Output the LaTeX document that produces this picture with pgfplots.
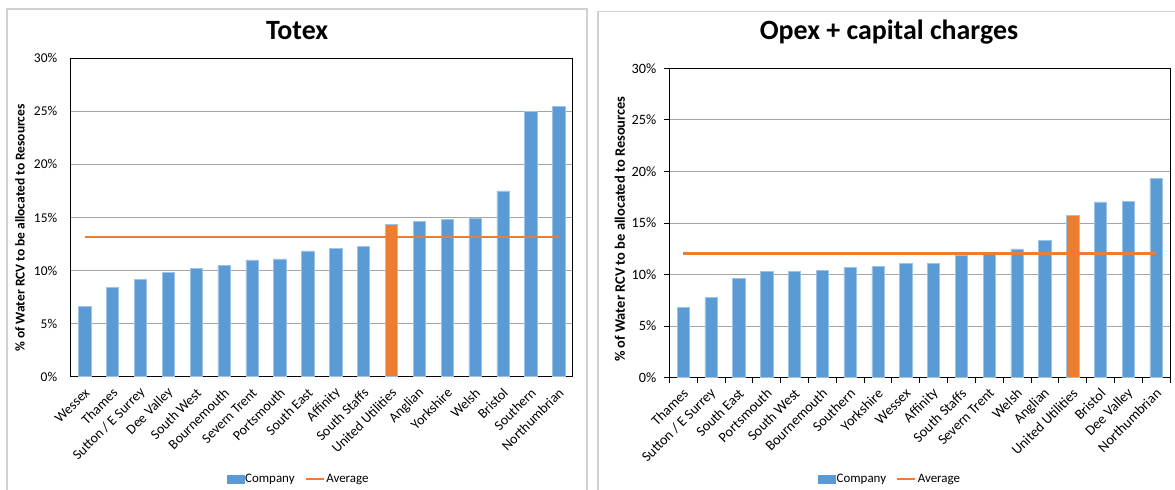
\documentclass[border=0pt]{standalone}
\usepackage{pgfplots}
\pgfplotsset{compat=1.18}
\usepackage{fontspec}
\setmainfont{Carlito}
\definecolor{xlblue}{HTML}{5B9BD5}
\definecolor{xledge}{HTML}{9DC3E6}
\definecolor{xlorange}{HTML}{ED7D31}
\definecolor{gridgray}{HTML}{A6A6A6}
\definecolor{panelgray}{HTML}{D0D0D0}

\pgfplotsset{
 xlstyle/.style={
  scale only axis,
  xmin=-0.5, xmax=17.5, ymin=0, ymax=30,
  ytick={0,5,...,30},
  yticklabel={\pgfmathprintnumber{\tick}\%},
  /pgf/number format/assume math mode=true,
  xtick={0,...,17},
  xtick pos=bottom, ytick pos=left,
  ymajorgrids,
  grid style={gridgray, line width=0.8bp},
  axis line style={black, line width=0.8bp},
  title style={font=\bfseries\fontsize{28}{32}\selectfont, anchor=base},
  ylabel={\% of Water RCV to be allocated to Resources},
  legend style={draw=none, fill=none, font=\fontsize{13}{15}\selectfont,
    legend columns=2, anchor=center, nodes={inner xsep=1bp},
    /tikz/every even column/.append style={column sep=9bp}},
 },
 barsty/.style={ybar, bar width=12.3bp, bar shift=0pt, fill=#1, draw=xledge, line width=0.5bp},
 avgsty/.style={xlorange, line width=2.6bp, mark=none},
}

\pgfplotstableread{
x y
0 6.6
1 8.4
2 9.2
3 9.8
4 10.2
5 10.5
6 11.0
7 11.1
8 11.85
9 12.1
10 12.3
12 14.6
13 14.8
14 14.9
15 17.5
16 25.0
17 25.5
}\totexblue

\pgfplotstableread{
x y
0 6.85
1 7.8
2 9.6
3 10.3
4 10.3
5 10.4
6 10.7
7 10.8
8 11.05
9 11.1
10 11.85
11 11.95
12 12.5
13 13.35
15 17.05
16 17.1
17 19.3
}\opexblue

\begin{document}
\begin{tikzpicture}
\useasboundingbox (0,0) rectangle (1175bp,490bp);
\fill[white] (0,0) rectangle (1175bp,490bp);
% panel frames
\draw[panelgray, line width=1.5bp] (7bp,-5bp) -- (7bp,481bp) -- (587bp,481bp) -- (587bp,-5bp);
\draw[panelgray, line width=1.5bp] (598bp,-5bp) -- (598bp,478.3bp) -- (1190bp,478.3bp);

% ---------- Left: Totex ----------
\begin{axis}[xlstyle,
  at={(70.7bp,113.3bp)}, anchor=south west,
  width=502bp, height=318.4bp,
  major tick length=0pt,
  tick label style={font=\fontsize{13.5}{16}\selectfont},
  label style={font=\bfseries\fontsize{13.5}{15}\selectfont},
  yticklabel style={xshift=-10bp},
  xticklabel style={font=\fontsize{14}{16}\selectfont, xshift=5bp, yshift=-11.5bp, rotate=45, anchor=east},
  xticklabels={Wessex,Thames,Sutton / E Surrey,Dee Valley,South West,Bournemouth,Severn Trent,Portsmouth,South East,Affinity,South Staffs,United Utilities,Anglian,Yorkshire,Welsh,Bristol,Southern,Northumbrian},
  ylabel style={at={(-0.101,0.467)}, anchor=center},
  title={Totex}, title style={at={(0.451,1.0418)}},
  legend style={at={(0.453,-0.321)}},
]
\addplot[barsty=xlblue, legend image code/.code={\fill[xlblue] (0bp,-4bp) rectangle (17bp,4bp);}] table[x=x,y=y] {\totexblue};
\addlegendentry{Company}
\addplot[barsty=xlorange, forget plot] coordinates {(11,14.4)};
\addplot[avgsty, legend image code/.code={\draw[xlorange, line width=2.6bp] (0bp,0bp) -- (18bp,0bp);}] coordinates {(0,13.15) (17,13.15)};
\addlegendentry{Average}
\end{axis}

% ---------- Right: Opex + capital charges ----------
\begin{axis}[xlstyle,
  at={(669.3bp,112.3bp)}, anchor=south west,
  width=500.7bp, height=309.4bp,
  tick align=outside,
  major tick length=5bp, minor tick length=5bp,
  tick style={black, line width=0.8bp},
  every major x tick/.append style={draw=none},
  minor xtick={-0.5,0.5,...,17.5},
  tick label style={font=\fontsize{14.3}{17}\selectfont},
  label style={font=\bfseries\fontsize{14.5}{16}\selectfont},
  yticklabel style={xshift=-4.5bp},
  xticklabel style={xshift=5bp, yshift=-6bp, rotate=45, anchor=east},
  xticklabels={Thames,Sutton / E Surrey,South East,Portsmouth,South West,Bournemouth,Southern,Yorkshire,Wessex,Affinity,South Staffs,Severn Trent,Welsh,Anglian,United Utilities,Bristol,Dee Valley,Northumbrian},
  ylabel style={at={(-0.0985,0.48)}, anchor=center},
  title={Opex + capital charges}, title style={at={(0.4388,1.0737)}},
  legend style={at={(0.44,-0.327)}},
]
\addplot[barsty=xlblue, legend image code/.code={\fill[xlblue] (0bp,-4bp) rectangle (17bp,4bp);}] table[x=x,y=y] {\opexblue};
\addlegendentry{Company}
\addplot[barsty=xlorange, forget plot] coordinates {(14,15.75)};
\addplot[avgsty, legend image code/.code={\draw[xlorange, line width=2.6bp] (0bp,0bp) -- (18bp,0bp);}] coordinates {(0,12.05) (17,12.05)};
\addlegendentry{Average}
\end{axis}
\end{tikzpicture}
\end{document}
